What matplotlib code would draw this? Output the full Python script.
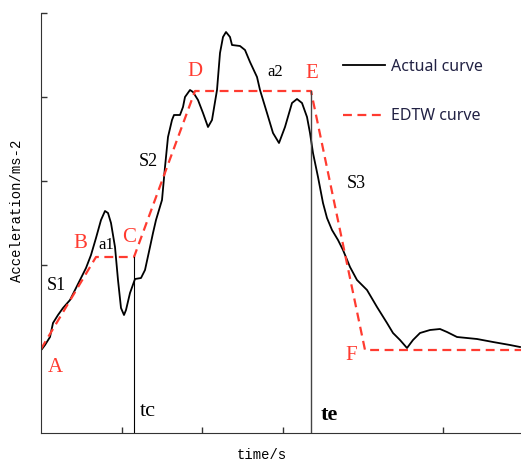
import matplotlib
matplotlib.use("Agg")
import matplotlib.pyplot as plt

time_actual = [1, 4, 9, 12, 17, 22, 29, 35, 40, 45, 50, 55, 60, 64, 67, 70, 74, 77, 80, 83,
               85, 89, 94, 100, 104, 109, 112, 115, 121, 124, 127, 131, 133, 139, 142, 144, 149,
               152, 157, 162, 167, 171, 176, 179, 182, 185, 189, 191, 199, 204, 209, 216, 219,
               226, 232, 238, 244, 251, 256, 261, 266, 269, 272, 277, 282, 286, 291, 297, 302,
               309, 316, 326, 336, 346, 352, 359, 366, 372, 379, 389, 399, 406, 416, 436, 452,
               469, 479]
acc_actual = [84, 88, 96, 110, 118, 125, 133, 145, 155, 165, 178, 195, 213, 222, 220, 210, 186,
              153, 125, 118, 123, 140, 154, 155, 163, 186, 200, 213, 233, 266, 296, 313, 318,
              318, 326, 336, 343, 341, 333, 320, 306, 313, 343, 380, 396, 401, 396, 388, 387,
              383, 371, 356, 343, 320, 300, 290, 306, 330, 334, 330, 316, 300, 280, 256, 230,
              215, 203, 193, 183, 166, 153, 143, 126, 110, 100, 93, 85, 93, 100, 103, 104, 101,
              96, 94, 91, 88, 86]

# EDTW piecewise approximation A-B-C-D-E-F
time_edtw = [0, 55, 93, 154, 270, 324, 480]
acc_edtw = [84, 176, 176, 342, 342, 83, 83]

t_c = 93
t_e = 270

xticks = [81, 161, 242, 402]
yticks = [168, 252, 336, 420]

red = "#ff3b30"

fig = plt.figure(figsize=(5.21, 4.63), dpi=100)
ax = fig.add_axes([41 / 521, 30 / 463, 480 / 521, 420 / 463])

ax.plot(time_actual, acc_actual, color="black", lw=1.3, label="Actual curve")
ax.plot(time_edtw, acc_edtw, color=red, lw=1.6, ls=(0, (4, 2.5)), label="EDTW curve")

ax.plot([t_c, t_c], [0, acc_edtw[2]], color="black", lw=0.8)
ax.plot([t_e, t_e], [0, acc_edtw[4]], color="#444444", lw=1.0)

ax.set_xlim(0, 480)
ax.set_ylim(0, 420)
ax.set_xticks(xticks)
ax.set_yticks(yticks)
ax.set_xticklabels([])
ax.set_yticklabels([])
ax.tick_params(direction="in", length=4, width=1, colors="#333333")
for side in ["top", "right"]:
    ax.spines[side].set_visible(False)
for side in ["left", "bottom"]:
    ax.spines[side].set_color("#333333")

serif = "Liberation Serif"
points = [("A", 14, 66), ("B", 39, 190), ("C", 88, 196), ("D", 154, 361), ("E", 271, 360), ("F", 310, 78)]
for name, x, y in points:
    ax.text(x, y, name, color=red, fontsize=15, family=serif, ha="center", va="center")

for name, x, y in [("S1", 15, 148), ("S2", 107, 271), ("S3", 315, 250)]:
    ax.text(x, y, name, color="black", fontsize=13, family=serif, ha="center", va="center")

ax.text(65, 188, "a1", fontsize=12, family=serif, ha="center", va="center")
ax.text(234, 361, "a2", fontsize=12, family=serif, ha="center", va="center")
ax.text(107, 22, "tc", fontsize=16, family=serif, ha="center", va="center")
ax.text(288, 18, "te", fontsize=16, family=serif, weight="bold", ha="center", va="center")

ax.legend(loc="upper left", bbox_to_anchor=(0.6, 0.925), frameon=False, handlelength=2.6,
          handletextpad=0.4, labelspacing=2.1, prop={"family": "Noto Sans", "size": 11.5},
          labelcolor="#222244")

fig.text(17 / 521, 1 - 211 / 463, "Acceleration/ms-2", rotation=90, ha="center", va="center",
         family="Liberation Mono", fontsize=10)
fig.text(262 / 521, 1 - 455 / 463, "time/s", ha="center", va="center",
         family="Liberation Mono", fontsize=10)

fig.savefig("out.png", dpi=100)
